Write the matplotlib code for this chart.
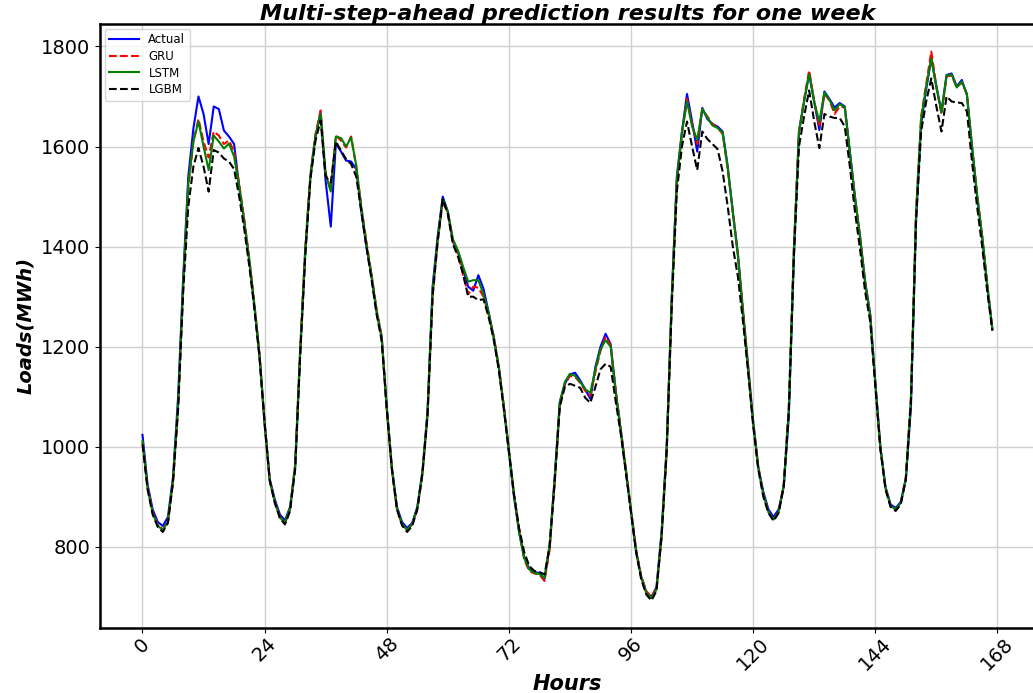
import matplotlib
matplotlib.use('Agg')
import matplotlib.pyplot as plt
import numpy as np

hours = np.arange(168)

actual = [
    1024, 925, 875, 850, 842, 860, 940, 1100, 1340, 1540, 1636, 1700, 1665, 1605, 1680, 1675, 1632, 1620, 1605, 1520, 1450, 1370, 1280, 1180,
    1050, 936, 895, 865, 853, 880, 960, 1190, 1390, 1540, 1620, 1668, 1530, 1440, 1607, 1590, 1572, 1570, 1555, 1470, 1400, 1340, 1270, 1220,
    1080, 960, 880, 850, 838, 848, 880, 950, 1070, 1320, 1420, 1500, 1470, 1410, 1390, 1356, 1320, 1312, 1343, 1316, 1270, 1220, 1160, 1080,
    990, 900, 830, 780, 757, 750, 748, 736, 800, 940, 1090, 1126, 1145, 1148, 1133, 1115, 1096, 1160, 1200, 1226, 1205, 1110, 1030, 950,
    870, 790, 740, 710, 700, 720, 830, 1000, 1300, 1540, 1630, 1705, 1650, 1590, 1677, 1655, 1645, 1640, 1630, 1560, 1470, 1385, 1270, 1160,
    1050, 960, 910, 875, 860, 875, 920, 1060, 1380, 1630, 1690, 1746, 1690, 1633, 1710, 1695, 1678, 1687, 1680, 1590, 1500, 1420, 1330, 1265,
    1130, 1000, 920, 885, 878, 890, 935, 1080, 1450, 1645, 1715, 1776, 1720, 1670, 1743, 1746, 1720, 1733, 1703, 1600, 1500, 1420, 1320, 1236,
]

gru = [
    1010, 920, 870, 845, 835, 850, 930, 1080, 1320, 1520, 1610, 1655, 1610, 1578, 1630, 1622, 1605, 1612, 1590, 1525, 1455, 1375, 1285, 1185,
    1045, 935, 890, 860, 848, 875, 965, 1200, 1400, 1545, 1625, 1672, 1545, 1512, 1622, 1612, 1598, 1620, 1560, 1480, 1410, 1345, 1275, 1220,
    1075, 955, 875, 845, 835, 845, 875, 945, 1060, 1300, 1410, 1490, 1468, 1410, 1385, 1345, 1305, 1320, 1318, 1300, 1265, 1222, 1162, 1082,
    995, 905, 835, 775, 752, 747, 745, 732, 795, 930, 1085, 1125, 1142, 1140, 1128, 1112, 1102, 1150, 1192, 1220, 1203, 1112, 1035, 955,
    875, 795, 742, 712, 700, 718, 820, 990, 1290, 1530, 1625, 1695, 1645, 1605, 1675, 1660, 1645, 1638, 1625, 1555, 1470, 1385, 1275, 1165,
    1050, 960, 905, 870, 855, 870, 925, 1080, 1400, 1630, 1695, 1752, 1690, 1640, 1705, 1692, 1665, 1680, 1678, 1585, 1498, 1420, 1330, 1262,
    1125, 998, 918, 882, 875, 888, 940, 1100, 1470, 1660, 1725, 1790, 1720, 1665, 1740, 1742, 1718, 1728, 1705, 1600, 1505, 1420, 1325, 1235,
]

lstm = [
    1012, 918, 868, 843, 833, 852, 935, 1085, 1325, 1525, 1610, 1650, 1600, 1553, 1622, 1610, 1596, 1606, 1580, 1520, 1450, 1372, 1282, 1183,
    1047, 933, 890, 860, 848, 878, 962, 1195, 1395, 1542, 1622, 1665, 1545, 1510, 1620, 1617, 1600, 1618, 1562, 1478, 1405, 1343, 1272, 1218,
    1078, 958, 878, 846, 834, 846, 878, 948, 1065, 1310, 1415, 1495, 1470, 1415, 1392, 1360, 1330, 1333, 1333, 1305, 1268, 1220, 1160, 1080,
    995, 905, 830, 778, 755, 748, 746, 738, 805, 935, 1088, 1130, 1146, 1142, 1130, 1115, 1108, 1155, 1195, 1213, 1200, 1108, 1032, 952,
    872, 792, 740, 708, 698, 715, 825, 995, 1295, 1535, 1628, 1690, 1640, 1613, 1675, 1658, 1642, 1637, 1628, 1558, 1468, 1382, 1270, 1160,
    1048, 958, 905, 870, 855, 870, 922, 1075, 1395, 1628, 1690, 1745, 1688, 1650, 1708, 1693, 1672, 1685, 1678, 1588, 1498, 1418, 1328, 1262,
    1127, 998, 918, 882, 875, 888, 938, 1095, 1465, 1655, 1720, 1776, 1718, 1668, 1742, 1744, 1718, 1730, 1705, 1600, 1505, 1420, 1325, 1235,
]

lgbm = [
    1005, 915, 865, 840, 830, 848, 930, 1075, 1310, 1480, 1560, 1597, 1560, 1510, 1593, 1588, 1576, 1570, 1555, 1500, 1435, 1360, 1275, 1178,
    1045, 932, 888, 858, 845, 872, 955, 1185, 1385, 1535, 1612, 1652, 1540, 1528, 1610, 1592, 1575, 1565, 1540, 1470, 1400, 1335, 1265, 1212,
    1075, 955, 875, 843, 830, 842, 875, 945, 1060, 1300, 1410, 1495, 1465, 1405, 1380, 1345, 1300, 1300, 1293, 1295, 1260, 1215, 1155, 1075,
    990, 905, 838, 790, 762, 752, 750, 745, 800, 930, 1080, 1120, 1126, 1122, 1118, 1098, 1088, 1120, 1155, 1166, 1160, 1090, 1025, 948,
    868, 790, 735, 705, 693, 712, 820, 990, 1280, 1510, 1600, 1650, 1600, 1553, 1630, 1615, 1605, 1595, 1550, 1480, 1400, 1340, 1250, 1150,
    1042, 955, 900, 868, 852, 868, 920, 1070, 1380, 1600, 1660, 1712, 1650, 1597, 1665, 1660, 1657, 1657, 1640, 1560, 1470, 1395, 1310, 1250,
    1120, 995, 915, 880, 872, 885, 935, 1090, 1450, 1630, 1690, 1736, 1680, 1630, 1700, 1690, 1688, 1687, 1670, 1570, 1480, 1400, 1310, 1232,
]

xticks = list(range(0, 169, 24))
yticks = [800, 1000, 1200, 1400, 1600, 1800]

fig = plt.figure(figsize=(10.33, 6.93), dpi=100)
ax = fig.add_axes([0.0968, 0.0938, 0.905, 0.8716])

ax.plot(hours, actual, color='b', lw=1.5, label='Actual')
ax.plot(hours, gru, color='r', lw=1.5, ls='--', label='GRU')
ax.plot(hours, lstm, color='g', lw=1.5, label='LSTM')
ax.plot(hours, lgbm, color='k', lw=1.5, ls='--', label='LGBM')

ax.grid(True, color='#d0d0d0', lw=1)
ax.set_axisbelow(True)
ax.set_xticks(xticks)
ax.set_yticks(yticks)
ax.tick_params(axis='x', rotation=45, labelsize=14, pad=1)
ax.tick_params(axis='y', labelsize=14)
for s in ax.spines.values():
    s.set_linewidth(1.8)
    s.set_color('black')

ax.set_title('Multi-step-ahead prediction results for one week',
             fontsize=16, fontweight='bold', fontstyle='italic', pad=2)
ax.set_xlabel('Hours', fontsize=15, fontweight='bold', fontstyle='italic', labelpad=0)
ax.set_ylabel('Loads(MWh)', fontsize=14, fontweight='bold', fontstyle='italic')
ax.legend(loc='upper left', fontsize=8.5, handlelength=2.5, labelspacing=0.3,
          borderaxespad=0.4)

fig.savefig('out.png', dpi=100)
